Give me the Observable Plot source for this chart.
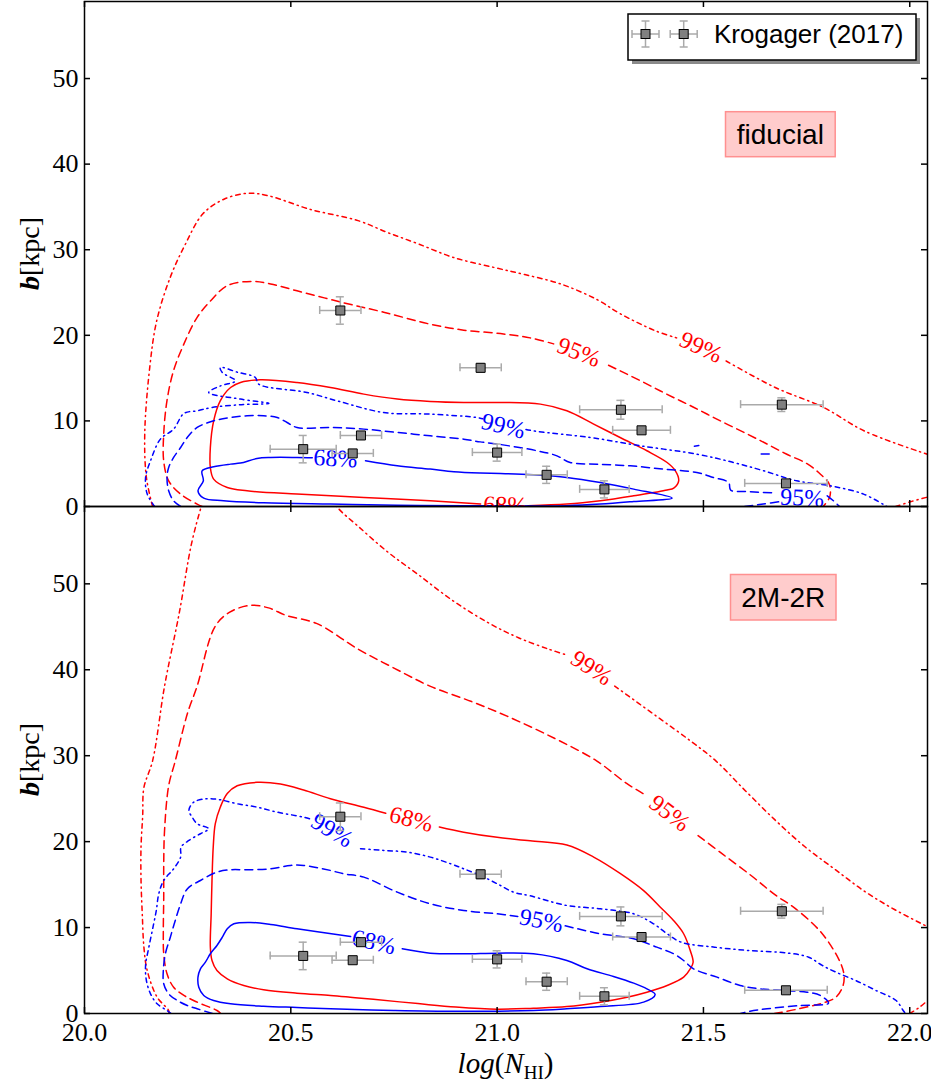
<!DOCTYPE html>
<html><head><meta charset="utf-8">
<script src="https://cdn.jsdelivr.net/npm/d3@7"></script>
<script src="https://cdn.jsdelivr.net/npm/@observablehq/plot@0.6"></script>
<style>
html,body{margin:0;padding:0;background:#fff;}
#chart svg{display:block;}
</style></head><body><div id="chart"></div>
<script>
// ---------- axes ----------
const xDomain = [20.0, 22.043];
const yDomain = [0, 59];
const xTicks = [20.0, 20.5, 21.0, 21.5, 22.0];
const yTicks = [0, 10, 20, 30, 40, 50];

// ---------- Krogager (2017) ----------
const krogX    = [20.62, 20.96, 21.30, 21.35, 21.69, 20.53, 20.67, 20.65, 21.00, 21.12, 21.26, 21.70];
const krogY    = [22.9, 16.2, 11.3, 8.9, 11.9, 6.7, 8.3, 6.2, 6.3, 3.7, 2.0, 2.7];
const krogXerr = [0.05, 0.05, 0.10, 0.07, 0.10, 0.08, 0.05, 0.05, 0.06, 0.05, 0.06, 0.10];
const krogYerr = [1.6, 0.5, 1.1, 0.3, 0.8, 1.6, 0.4, 0.3, 1.0, 1.0, 1.0, 0.3];

// ---------- fiducial contours (null = gap for inline label) ----------
const fidRed99 = [[20.165,0],[20.150,3.4],[20.146,8.5],[20.158,16.2],[20.175,21.7],[20.208,26.8],[20.244,30.6],[20.287,34.2],[20.338,35.9],[20.396,36.6],[20.446,36.3],[20.548,34.7],[20.663,33.4],[20.735,32.0],[20.808,30.7],[20.894,29.1],[20.995,27.9],[21.067,27.1],[21.154,26.0],[21.241,24.2],[21.299,22.5],[21.385,20.5],[21.435,19.7],null,[21.555,17.0],[21.674,13.9],[21.790,11.6],[21.891,8.8],[22.043,6.1]];
const fidRed99b = [[21.966,0],[22.005,0.6],[22.043,1.1]];
const fidRed95 = [[20.285,0],[20.273,0.28],[20.233,1.45],[20.204,3.0],[20.192,5.3],[20.192,8.5],[20.200,12.4],[20.216,15.9],[20.241,19.0],[20.273,22.1],[20.305,24.0],[20.346,25.8],[20.406,26.3],[20.451,26.0],[20.515,25.2],[20.628,23.8],[20.725,22.7],[20.838,21.3],[20.919,20.6],[21.008,20.2],[21.080,19.7],[21.137,19.0],null,[21.270,16.5],[21.347,14.7],[21.412,13.1],[21.476,11.6],[21.541,10.0],[21.605,8.5],[21.654,7.3],[21.702,6.1],[21.751,5.0],[21.783,3.8],[21.805,2.6],[21.806,1.1],[21.79,0]];
const fidRed68 = [[21.075,0.1],[21.169,0.28],[21.250,0.67],[21.331,1.25],[21.412,1.92],[21.428,2.15],[21.440,3.0],[21.432,4.17],[21.412,5.14],[21.363,6.51],[21.298,8.06],[21.234,9.63],[21.169,11.18],[21.105,11.96],[21.008,12.15],[20.919,12.15],[20.838,12.27],[20.758,12.55],[20.677,13.13],[20.596,13.9],[20.515,14.49],[20.426,14.8],[20.378,14.49],[20.354,13.9],[20.329,12.35],[20.313,10.01],[20.305,6.89],[20.305,4.56],[20.313,3.2],[20.346,2.22],[20.394,1.83],[20.515,1.45],[20.677,1.05],[20.838,0.67],[20.96,0.3]];
const fidBlue99 = [[20.17,0],[20.152,1.45],[20.148,3.39],[20.16,5.34],[20.184,7.87],[20.216,9.04],[20.241,10.87],[20.273,11.18],[20.309,11.57],[20.38,11.9],[20.447,12.04],[20.378,12.55],[20.301,13.32],[20.33,14.1],[20.366,14.68],[20.334,15.65],[20.329,16.24],[20.37,15.7],[20.414,15.07],[20.422,14.3],[20.539,13.32],[20.612,12.35],[20.725,10.98],[20.838,10.79],[20.951,10.4],[20.965,10.25],null,[21.07,9.0],[21.097,8.77],[21.226,8.06],[21.347,7.09],[21.484,6.12],[21.573,5.14],[21.646,4.17],[21.726,3.0],[21.807,2.42],[21.888,1.45],[21.944,0]];
const fidBlue99b = [[21.478,7.05],[21.492,7.15]];
const fidBlue95 = [[20.233,0],[20.216,0.67],[20.204,1.83],[20.200,3.39],[20.204,4.56],[20.216,5.73],[20.233,6.89],[20.249,8.06],[20.273,9.23],[20.313,10.01],[20.354,10.4],[20.394,10.6],[20.434,10.6],[20.467,10.4],[20.491,9.81],[20.515,9.23],[20.596,9.23],[20.677,9.04],[20.758,8.65],[20.838,8.26],[20.919,7.87],[20.959,7.55],[21.0,7.3],[21.097,6.51],[21.145,5.92],[21.177,5.14],[21.242,4.95],[21.323,4.75],[21.403,4.37],[21.484,3.97],[21.524,3.39],[21.561,2.8],[21.566,1.92],[21.605,1.75],[21.67,1.6],null,[21.80,1.25],[21.815,0.67],[21.83,0]];
const fidBlue95b = [[21.60,0],[21.645,0.3],[21.69,0.6]];
const fidBlue95c = [[21.64,6.12],[21.668,6.12]];
const fidBlue68 = [[20.681,5.34],[20.758,4.75],[20.838,4.37],[20.895,4.05],[20.959,3.9],[21.008,3.86],[21.088,3.7],[21.169,3.39],[21.250,2.8],[21.331,2.03],[21.424,0.98],[21.331,0.58],[21.250,0.28],[21.169,0.1],[21.0,0.08],[20.919,0.08],[20.758,0.16],[20.596,0.28],[20.434,0.43],[20.337,0.67],[20.289,0.98],[20.275,1.83],[20.288,3.0],[20.285,4.17],[20.313,4.64],[20.354,4.95],[20.378,5.07],[20.418,5.61],[20.451,5.73],[20.515,5.73],[20.552,5.7]];

// ---------- 2M-2R contours ----------
const r2Red99a = [[20.204,0],[20.204,0.35],[20.176,1.9],[20.152,5.0],[20.144,7.7],[20.140,11.6],[20.137,15.5],[20.137,19.4],[20.141,23.0],[20.144,26.3],[20.165,29.4],[20.194,38.1],[20.230,46.7],[20.259,54.6],[20.283,59.0],[20.29,60]];
const r2Red99 = [[20.60,60],[20.613,58.9],[20.663,56.7],[20.735,53.7],[20.808,51.1],[20.894,48.0],[20.981,45.4],[21.053,43.7],[21.125,42.4],[21.17,41.7],null,[21.285,38.1],[21.386,34.6],[21.472,31.6],[21.530,29.4],[21.602,25.9],[21.674,22.5],[21.746,19.4],[21.818,16.8],[21.891,14.2],[21.963,12.1],[22.043,10.1]];
const r2Red99b = [[22.0,0],[22.02,0.6],[22.043,1.5]];
const r2Red95 = [[20.33,0],[20.321,0.35],[20.273,1.32],[20.241,2.1],[20.216,3.06],[20.200,4.62],[20.192,6.95],[20.191,9.66],[20.192,13.5],[20.192,17.4],[20.194,21.3],[20.204,26.5],[20.22,29.4],[20.25,35.0],[20.273,38.1],[20.316,45.0],[20.352,46.7],[20.403,47.5],[20.446,47.2],[20.490,46.3],[20.562,45.4],[20.663,42.4],[20.750,40.2],[20.837,38.1],[20.938,36.3],[21.024,34.6],[21.140,32.0],[21.241,29.4],[21.313,26.8],[21.357,25.5],null,[21.487,20.7],[21.545,18.6],[21.617,16.0],[21.674,13.8],[21.723,12.2],[21.788,9.28],[21.833,5.79],[21.841,4.23],[21.837,3.06],[21.821,1.9],[21.796,1.32],[21.731,0.55],[21.690,0.15],[21.67,0]];
const r2Red68 = [[20.86,21.7],[20.919,21.1],[21.0,20.5],[21.08,20.1],[21.169,19.6],[21.234,18.2],[21.298,16.3],[21.355,14.3],[21.395,12.4],[21.428,10.8],[21.452,9.28],[21.468,7.33],[21.475,5.97],[21.468,5.2],[21.452,4.23],[21.412,3.26],[21.363,2.48],[21.315,1.9],[21.250,1.32],[21.169,0.81],[21.088,0.62],[21.0,0.5],[20.9,0.75],[20.808,1.15],[20.7,1.65],[20.644,1.9],[20.596,2.1],[20.515,2.36],[20.434,2.76],[20.386,3.26],[20.346,4.04],[20.321,5.0],[20.309,6.17],[20.305,7.7],[20.307,11.6],[20.309,15.5],[20.312,19.4],[20.317,22.1],[20.329,24.0],[20.346,25.6],[20.370,26.5],[20.418,26.9],[20.475,26.7],[20.531,26.0],[20.596,25.0],[20.677,24.0],[20.73,23.3]];
const r2Blue99 = [[20.21,0],[20.2,0.35],[20.176,1.13],[20.160,2.29],[20.150,3.84],[20.148,5.59],[20.156,7.72],[20.166,10.05],[20.174,11.99],[20.180,13.93],[20.192,15.48],[20.216,16.84],[20.233,18.2],[20.234,19.36],[20.253,20.14],[20.281,20.92],[20.301,21.5],[20.273,22.08],[20.261,22.85],[20.253,23.63],[20.265,24.6],[20.297,24.99],[20.329,24.87],[20.370,24.41],[20.418,24.02],[20.467,23.43],[20.531,22.85],[20.55,22.6],null,[20.669,19.17],[20.725,18.98],[20.782,18.78],[20.838,18.2],[20.887,17.43],[20.919,16.84],[20.959,16.07],[21.0,15.1],[21.04,14.12],[21.08,13.7],[21.169,12.57],[21.25,12.19],[21.331,11.6],[21.379,10.44],[21.412,9.28],[21.446,8.3],[21.527,7.72],[21.609,7.33],[21.707,7.02],[21.755,6.55],[21.788,5.59],[21.821,4.81],[21.869,3.84],[21.918,2.68],[21.967,1.51],[21.984,0.35],[21.99,0]];
const r2Blue95 = [[20.31,0],[20.273,0.55],[20.249,0.93],[20.225,1.51],[20.204,2.29],[20.192,3.46],[20.191,5.0],[20.196,6.95],[20.208,8.88],[20.220,10.83],[20.233,12.77],[20.249,14.5],[20.281,15.48],[20.321,16.45],[20.354,16.73],[20.394,16.73],[20.451,16.84],[20.499,17.23],[20.531,17.23],[20.596,16.65],[20.628,16.26],[20.677,15.87],[20.758,14.12],[20.838,12.77],[20.919,11.99],[21.0,11.6],[21.05,11.3],null,[21.165,10.2],[21.25,9.28],[21.331,8.7],[21.387,7.72],[21.428,6.95],[21.452,6.17],[21.476,5.2],[21.533,4.23],[21.589,3.26],[21.638,2.87],[21.694,2.68],[21.751,2.48],[21.783,2.1],[21.803,1.2],[21.735,0.93],[21.654,0.55],[21.613,0.27],[21.59,0]];
const r2Blue68 = [[20.77,7.53],[20.838,7.02],[20.919,6.95],[21.0,7.02],[21.088,6.95],[21.169,6.17],[21.218,5.2],[21.282,4.31],[21.331,3.53],[21.363,2.87],[21.383,2.21],[21.355,1.32],[21.25,0.81],[21.169,0.55],[21.088,0.35],[20.9,0.25],[20.75,0.35],[20.596,0.55],[20.515,0.7],[20.434,0.85],[20.354,1.13],[20.313,1.51],[20.289,2.1],[20.277,3.06],[20.275,4.23],[20.281,5.2],[20.293,5.97],[20.305,6.95],[20.321,7.92],[20.334,8.88],[20.346,9.86],[20.362,10.44],[20.402,10.6],[20.451,10.36],[20.515,9.86],[20.628,9.08],[20.645,8.95]];

// ---------- inline contour labels ----------
const fidLabelOf = ["fidRed95", "fidRed99", "fidRed68", "fidBlue99", "fidBlue68", "fidBlue95"];
const fidLabelX  = [21.198, 21.494, 21.02, 21.015, 20.608, 21.739];
const fidLabelY  = [18.0, 18.6, 0.15, 9.4, 5.6, 1.0];
const r2LabelOf  = ["r2Red99", "r2Red95", "r2Red68", "r2Blue99", "r2Blue95", "r2Blue68"];
const r2LabelX   = [21.229, 21.418, 20.792, 20.6, 21.107, 20.701];
const r2LabelY   = [40.2, 23.3, 22.6, 21.3, 10.8, 8.3];

const fidContours = {fidRed99, fidRed99b, fidRed95, fidRed68, fidBlue99, fidBlue99b, fidBlue95, fidBlue95b, fidBlue95c, fidBlue68};
const r2Contours = {r2Red99a, r2Red99, r2Red99b, r2Red95, r2Red68, r2Blue99, r2Blue95, r2Blue68};

// ---------- rendering ----------
const W = 931, ML = 84, MR = 4;
const SERIF = "Liberation Serif, DejaVu Serif, serif";
const SANS = "Liberation Sans, Arial, sans-serif";
const dashes = {68: null, 95: "8,5", 99: "4.5,4,1.2,4"};
const krog = krogX.map((x, i) => ({x, y: krogY[i], xerr: krogXerr[i], yerr: krogYerr[i]}));

function levelOf(key) { return +key.match(/(68|95|99)/)[1]; }
function colorOf(key) { return key.includes("Red") ? "#ff0000" : "#0000ff"; }

function makePanel(cfg) {
  const plotW = W - ML - MR;
  const plotH = cfg.height - cfg.mt - cfg.mb;
  const kx = plotW / (xDomain[1] - xDomain[0]);
  const ky = plotH / (yDomain[1] - yDomain[0]);
  const marks = [];
  for (const [key, pts] of Object.entries(cfg.contours)) {
    let seg = 0; const recs = [];
    for (const p of pts) { if (p === null) seg++; else recs.push({x: p[0], y: p[1], seg}); }
    const o = {x: "x", y: "y", z: "seg", stroke: colorOf(key), strokeWidth: 1.5, curve: "catmull-rom", clip: true};
    const d = dashes[levelOf(key)];
    if (d) o.strokeDasharray = d;
    marks.push(Plot.line(recs, o));
  }
  // inline labels, rotated along the contour across the gap
  const labs = cfg.labelOf.map((key, i) => {
    const pts = cfg.contours[key];
    let k = pts.indexOf(null), a, b;
    if (k >= 0) { a = pts[k - 1]; b = pts[k + 1]; } else { a = pts[pts.length - 1]; b = pts[0]; }
    let ang = Math.atan2(-(b[1] - a[1]) * ky, (b[0] - a[0]) * kx) * 180 / Math.PI;
    if (ang > 90) ang -= 180; if (ang < -90) ang += 180;
    return {x: cfg.labelX[i], y: cfg.labelY[i], text: levelOf(key) + "%", color: colorOf(key), rotate: ang};
  });
  for (const c of ["#ff0000", "#0000ff"]) {
    marks.push(Plot.text(labs.filter(d => d.color === c), {x: "x", y: "y", text: "text", rotate: "rotate", fill: c, fontSize: 24, fontFamily: SERIF, clip: true}));
  }
  // error bars
  const eb = {stroke: "#aaaaaa", strokeWidth: 1.5};
  const capX = 4 / kx, capY = 4 / ky;
  marks.push(
    Plot.ruleY(krog, {y: "y", x1: d => d.x - d.xerr, x2: d => d.x + d.xerr, ...eb}),
    Plot.ruleX(krog, {x: "x", y1: d => d.y - d.yerr, y2: d => d.y + d.yerr, ...eb}),
    Plot.ruleX(krog, {x: d => d.x - d.xerr, y1: d => d.y - capY, y2: d => d.y + capY, ...eb}),
    Plot.ruleX(krog, {x: d => d.x + d.xerr, y1: d => d.y - capY, y2: d => d.y + capY, ...eb}),
    Plot.ruleY(krog, {y: d => d.y - d.yerr, x1: d => d.x - capX, x2: d => d.x + capX, ...eb}),
    Plot.ruleY(krog, {y: d => d.y + d.yerr, x1: d => d.x - capX, x2: d => d.x + capX, ...eb}),
    Plot.dot(krog, {x: "x", y: "y", symbol: "square", r: 5.1, fill: "#808080", stroke: "#000", strokeWidth: 1})
  );
  // inward ticks and frame
  const tk = {stroke: "#000", strokeWidth: 1.5};
  marks.push(
    Plot.ruleY(yTicks, {y: d => d, insetRight: plotW - 6, ...tk}),
    Plot.ruleY(yTicks, {y: d => d, insetLeft: plotW - 6, ...tk}),
    Plot.ruleX(xTicks, {x: d => d, insetBottom: plotH - 6, ...tk}),
    Plot.ruleX(xTicks, {x: d => d, insetTop: plotH - 6, ...tk}),
    Plot.frame({stroke: "#000", strokeWidth: 1.5})
  );
  const svg = Plot.plot({
    width: W, height: cfg.height,
    marginLeft: ML, marginRight: MR, marginTop: cfg.mt, marginBottom: cfg.mb,
    style: {fontFamily: SERIF, fontSize: "26px", background: "transparent", overflow: "visible", color: "#000"},
    x: {domain: xDomain, ticks: xTicks, tickSize: 0, tickPadding: 9, tickFormat: d3.format(".1f"), label: null, axis: cfg.showX ? "bottom" : null},
    y: {domain: yDomain, ticks: yTicks, tickSize: 0, tickPadding: 6, label: null},
    marks
  });
  document.getElementById("chart").appendChild(svg);
  const s = d3.select(svg);
  // y label b[kpc]
  const yl = s.append("text").attr("transform", `translate(39,${cfg.mt + plotH / 2}) rotate(-90)`)
    .attr("text-anchor", "middle").attr("font-family", SERIF).attr("font-size", 28).attr("fill", "#000");
  yl.append("tspan").attr("font-style", "italic").attr("font-weight", "bold").text("b");
  yl.append("tspan").text("[kpc]");
  // model tag box
  const t = cfg.tag;
  s.append("rect").attr("x", t.x).attr("y", t.y).attr("width", t.w).attr("height", t.h)
    .attr("fill", "#ffcccc").attr("stroke", "#ff9090").attr("stroke-width", 1.5);
  s.append("text").attr("x", t.x + t.w / 2).attr("y", t.y + t.h / 2).attr("dy", "0.35em")
    .attr("text-anchor", "middle").attr("font-family", SANS).attr("font-size", 28).attr("fill", "#000").text(t.text);
  return s;
}

const topPanel = makePanel({height: 506, mt: 1, mb: 0, showX: false, contours: fidContours,
  labelOf: fidLabelOf, labelX: fidLabelX, labelY: fidLabelY,
  tag: {x: 725.5, y: 111.7, w: 109.7, h: 45, text: "fiducial"}});
const botPanel = makePanel({height: 575, mt: 0, mb: 68, showX: true, contours: r2Contours,
  labelOf: r2LabelOf, labelX: r2LabelX, labelY: r2LabelY,
  tag: {x: 730.5, y: 68.5, w: 105.5, h: 45.5, text: "2M-2R"}});

// legend (top panel)
const lg = topPanel.append("g");
lg.append("rect").attr("x", 632).attr("y", 18).attr("width", 288).attr("height", 46).attr("fill", "#8a8a8a");
lg.append("rect").attr("x", 628).attr("y", 14).attr("width", 288).attr("height", 46).attr("fill", "#fff").attr("stroke", "#000").attr("stroke-width", 1.5);
for (const cx of [645.5, 683.7]) {
  const cy = 34, g = lg.append("g").attr("stroke", "#aaaaaa").attr("stroke-width", 1.5);
  g.append("line").attr("x1", cx - 13.5).attr("x2", cx + 13.5).attr("y1", cy).attr("y2", cy);
  g.append("line").attr("x1", cx).attr("x2", cx).attr("y1", cy - 13).attr("y2", cy + 13);
  g.append("line").attr("x1", cx - 13.5).attr("x2", cx - 13.5).attr("y1", cy - 4).attr("y2", cy + 4);
  g.append("line").attr("x1", cx + 13.5).attr("x2", cx + 13.5).attr("y1", cy - 4).attr("y2", cy + 4);
  g.append("line").attr("x1", cx - 4).attr("x2", cx + 4).attr("y1", cy - 13).attr("y2", cy - 13);
  g.append("line").attr("x1", cx - 4).attr("x2", cx + 4).attr("y1", cy + 13).attr("y2", cy + 13);
  lg.append("rect").attr("x", cx - 4.5).attr("y", cy - 4.5).attr("width", 9).attr("height", 9).attr("fill", "#808080").attr("stroke", "#000");
}
lg.append("text").attr("x", 714).attr("y", 43).attr("text-anchor", "start").attr("font-family", SANS).attr("font-size", 26).attr("fill", "#000").text("Krogager (2017)");

// x label log(N_HI)
const xl = botPanel.append("text").attr("x", (ML + W - MR) / 2).attr("y", 567).attr("text-anchor", "middle")
  .attr("font-family", SERIF).attr("font-size", 29).attr("fill", "#000");
xl.append("tspan").attr("font-style", "italic").text("log");
xl.append("tspan").text("(");
xl.append("tspan").attr("font-style", "italic").text("N");
xl.append("tspan").attr("font-size", 19).attr("dy", 6).text("HI");
xl.append("tspan").attr("dy", -6).text(")");
</script></body></html>
